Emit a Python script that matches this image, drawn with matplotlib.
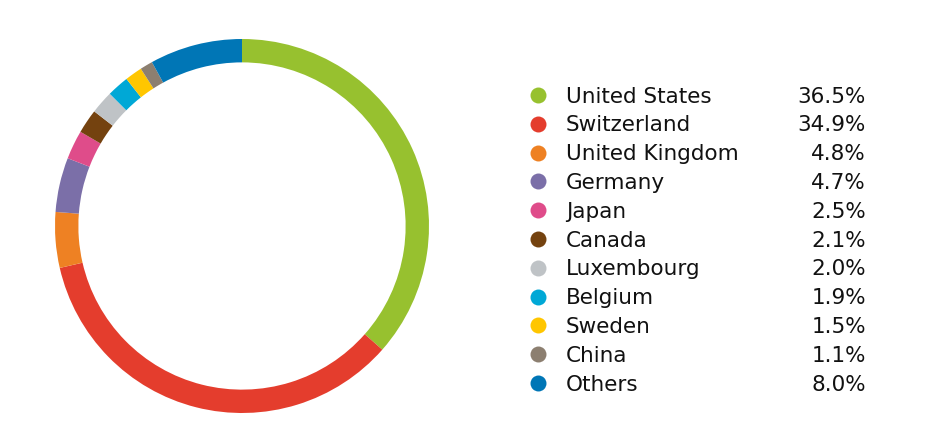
import matplotlib
matplotlib.use("Agg")
import matplotlib.pyplot as plt

countries = ["United States", "Switzerland", "United Kingdom", "Germany", "Japan",
             "Canada", "Luxembourg", "Belgium", "Sweden", "China", "Others"]
shares = [36.5, 34.9, 4.8, 4.7, 2.5, 2.1, 2.0, 1.9, 1.5, 1.1, 8.0]
colors = ["#97C12F", "#E43D2D", "#EE8123", "#7B6FA8", "#DF4C8A", "#74420F",
          "#BFC3C6", "#00A8D6", "#FFC600", "#8C7F70", "#0076B6"]

plt.rcParams['font.family'] = ['DejaVu Sans']

W, H = 944, 444
fig = plt.figure(figsize=(W / 100, H / 100), dpi=100)

# donut
cx, cy, r = 242, 226, 187
ax = fig.add_axes([(cx - r) / W, (H - cy - r) / H, 2 * r / W, 2 * r / H])
ax.pie(shares, colors=colors, startangle=90, counterclock=False,
       wedgeprops=dict(width=0.125, linewidth=0))
ax.set_xlim(-1, 1)
ax.set_ylim(-1, 1)
ax.set_aspect('equal')
ax.axis('off')

# legend as table
lax = fig.add_axes([0, 0, 1, 1])
lax.set_xlim(0, W)
lax.set_ylim(H, 0)
lax.axis('off')
y0, dy = 95, 28.8
fs = 15.5
for i, (name, val, c) in enumerate(zip(countries, shares, colors)):
    y = y0 + i * dy
    lax.plot(538, y, 'o', ms=11.5, color=c, mec='none')
    lax.text(566, y + 7.5, name, fontsize=fs, va='baseline', ha='left', color='#111111')
    lax.text(866, y + 7.5, f"{val:.1f}%", fontsize=fs, va='baseline', ha='right', color='#111111')

fig.savefig("out.png", dpi=100)
